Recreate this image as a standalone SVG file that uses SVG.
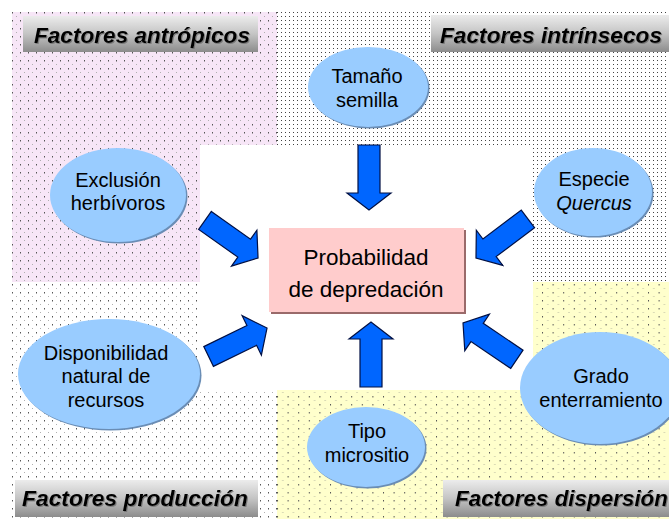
<svg xmlns="http://www.w3.org/2000/svg" width="669" height="521" viewBox="0 0 669 521">
<style>
.lbl{font-family:"Liberation Sans",Arial,sans-serif;font-size:22.5px;font-weight:bold;font-style:italic;fill:#000;}
.nt{font-family:"Liberation Sans",Arial,sans-serif;font-size:20px;fill:#000;text-anchor:middle;}
.ct{font-family:"Liberation Sans",Arial,sans-serif;font-size:22.5px;fill:#000;text-anchor:middle;}
.ell{fill:#99CCFF;}
.shd{fill:#6a8db5;}
.arr{fill:#0066FF;stroke:#001044;stroke-width:1.2;stroke-linejoin:miter;}
.box{fill:url(#gbox);}
</style>
<defs>
<pattern id="sparse" width="8" height="8" patternUnits="userSpaceOnUse" x="12" y="12">
<rect x="0" y="0" width="1" height="1.5" fill="#555"/>
<rect x="4" y="4" width="1" height="1" fill="#b0b0b0"/>
</pattern>
<pattern id="sparsey" width="10.6" height="8" patternUnits="userSpaceOnUse" x="277" y="284">
<rect x="0" y="0" width="1" height="1.5" fill="#555"/>
<rect x="5.3" y="4" width="1" height="1" fill="#b8b8a0"/>
</pattern>
<pattern id="dense" width="4" height="4" patternUnits="userSpaceOnUse" x="277" y="12">
<rect x="0" y="0" width="1" height="1" fill="#444"/>
</pattern>
<linearGradient id="gbox" x1="0" y1="0" x2="0" y2="1">
<stop offset="0" stop-color="#ececec"/>
<stop offset="0.5" stop-color="#c4c4c4"/>
<stop offset="1" stop-color="#8c8c8c"/>
</linearGradient>
<filter id="tsh" x="-5%" y="-20%" width="110%" height="140%">
<feDropShadow dx="1" dy="1" stdDeviation="0.6" flood-color="#666" flood-opacity="0.7"/>
</filter>
<polygon id="arrow" points="0,-11 48,-11 48,-22 65,0 48,22 48,11 0,11"/>
</defs>
<rect width="669" height="521" fill="#fff"/>
<g id="backgrounds">
<rect x="12" y="12" width="265" height="270" fill="#F7E6F7"/>
<rect x="12" y="12" width="265" height="270" fill="url(#sparse)"/>
<rect x="277" y="12" width="392" height="270" fill="url(#dense)"/>
<rect x="12" y="282" width="265" height="237" fill="url(#sparse)"/>
<rect x="277" y="282" width="392" height="237" fill="#FFFFCC"/>
<rect x="277" y="282" width="392" height="237" fill="url(#sparsey)"/>
<rect x="200" y="145" width="333" height="245" fill="#fff"/>
</g>
<g id="label-antropicos">
<rect class="box" x="23" y="16" width="235" height="36"/>
<text class="lbl" x="34" y="43" textLength="216" lengthAdjust="spacingAndGlyphs" filter="url(#tsh)">Factores antrópicos</text>
</g>
<g id="label-intrinsecos">
<rect class="box" x="431" y="15" width="240" height="37"/>
<text class="lbl" x="440" y="43" textLength="222" lengthAdjust="spacingAndGlyphs" filter="url(#tsh)">Factores intrínsecos</text>
</g>
<g id="label-produccion">
<rect class="box" x="15" y="480" width="243" height="37"/>
<text class="lbl" x="22" y="506" textLength="226" lengthAdjust="spacingAndGlyphs" filter="url(#tsh)">Factores producción</text>
</g>
<g id="label-dispersion">
<rect class="box" x="443" y="480" width="228" height="37"/>
<text class="lbl" x="455" y="506" textLength="213" lengthAdjust="spacingAndGlyphs" filter="url(#tsh)">Factores dispersión</text>
</g>
<g id="connectors">
<use href="#arrow" class="arr" transform="translate(369,145) rotate(90)"/>
<use href="#arrow" class="arr" transform="translate(371,387) rotate(-90)"/>
<use href="#arrow" class="arr" transform="translate(205,220.4) rotate(35.3)"/>
<use href="#arrow" class="arr" transform="translate(208.6,356.5) rotate(-26)"/>
<use href="#arrow" class="arr" transform="translate(527.9,218.9) rotate(143)"/>
<use href="#arrow" class="arr" transform="translate(516.9,359.3) rotate(214)"/>
</g>
<g id="center">
<rect x="271" y="230" width="195" height="84" fill="#9a6a6a"/>
<rect x="269" y="228" width="195" height="84" fill="#FFCCCC"/>
<text class="ct" x="366" y="265">Probabilidad</text>
<text class="ct" x="366" y="297">de depredación</text>
</g>
<g id="node-tamano">
<ellipse class="shd" cx="369.5" cy="88.5" rx="60" ry="40"/>
<ellipse class="ell" cx="368" cy="87" rx="60" ry="40"/>
<text class="nt" x="367" y="83">Tamaño</text>
<text class="nt" x="367" y="107">semilla</text>
</g>
<g id="node-exclusion">
<ellipse class="shd" cx="119.5" cy="196.5" rx="68" ry="47"/>
<ellipse class="ell" cx="118" cy="195" rx="68" ry="47"/>
<text class="nt" x="118" y="187">Exclusión</text>
<text class="nt" x="118" y="210">herbívoros</text>
</g>
<g id="node-especie">
<ellipse class="shd" cx="594.5" cy="193.5" rx="59" ry="44"/>
<ellipse class="ell" cx="593" cy="192" rx="59" ry="44"/>
<text class="nt" x="594" y="186">Especie</text>
<text class="nt" x="594" y="210" font-style="italic">Quercus</text>
</g>
<g id="node-disponibilidad">
<ellipse class="shd" cx="110.5" cy="375.5" rx="91" ry="55"/>
<ellipse class="ell" cx="109" cy="374" rx="91" ry="55"/>
<text class="nt" x="106" y="360">Disponibilidad</text>
<text class="nt" x="106" y="383">natural de</text>
<text class="nt" x="106" y="407">recursos</text>
</g>
<g id="node-grado">
<ellipse class="shd" cx="601.5" cy="389.5" rx="80" ry="56"/>
<ellipse class="ell" cx="600" cy="388" rx="80" ry="56"/>
<text class="nt" x="601" y="383">Grado</text>
<text class="nt" x="601" y="407">enterramiento</text>
</g>
<g id="node-tipo">
<ellipse class="shd" cx="367.5" cy="448.5" rx="59" ry="40"/>
<ellipse class="ell" cx="366" cy="447" rx="59" ry="40"/>
<text class="nt" x="367" y="438">Tipo</text>
<text class="nt" x="367" y="462">micrositio</text>
</g>
</svg>
